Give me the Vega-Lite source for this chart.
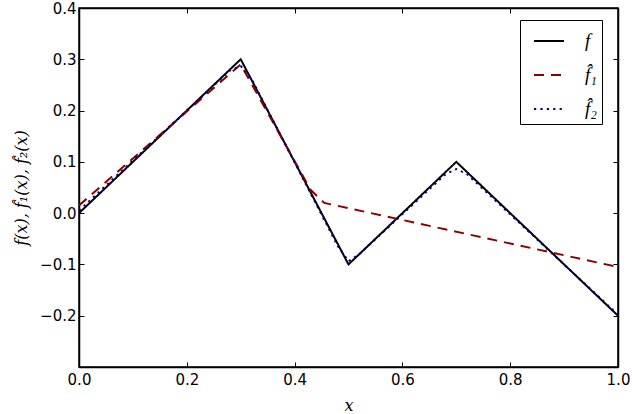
{
  "$schema": "https://vega.github.io/schema/vega-lite/v6.json",
  "width": 539,
  "height": 359,
  "autosize": {"type": "none"},
  "padding": {"left": 79, "top": 8, "right": 14, "bottom": 47},
  "background": "white",
  "config": {
    "view": {"stroke": "black", "strokeWidth": 1.5},
    "axis": {
      "domainColor": "black", "domainWidth": 1.5, "tickColor": "black", "grid": false,
      "labelFont": "DejaVu Sans", "labelFontSize": 15, "labelColor": "black", "labelFlush": false, "labelOverlap": false,
      "tickSize": -5, "tickWidth": 1, "labelPadding": 10,
      "titleFont": "DejaVu Serif", "titleFontStyle": "italic", "titleFontWeight": "normal", "titleFontSize": 16, "titleColor": "black"
    }
  },
  "data": {"values": [
    {"s": "f", "x": 0.0, "y": 0.0},
    {"s": "f", "x": 0.3, "y": 0.3},
    {"s": "f", "x": 0.5, "y": -0.1},
    {"s": "f", "x": 0.7, "y": 0.1},
    {"s": "f", "x": 1.0, "y": -0.2},
    {"s": "f1", "x": 0.0, "y": 0.015},
    {"s": "f1", "x": 0.3, "y": 0.29},
    {"s": "f1", "x": 0.43, "y": 0.045},
    {"s": "f1", "x": 0.455, "y": 0.02},
    {"s": "f1", "x": 1.0, "y": -0.105},
    {"s": "f2", "x": 0.0, "y": 0.005},
    {"s": "f2", "x": 0.28, "y": 0.278},
    {"s": "f2", "x": 0.3, "y": 0.287},
    {"s": "f2", "x": 0.32, "y": 0.262},
    {"s": "f2", "x": 0.48, "y": -0.064},
    {"s": "f2", "x": 0.5, "y": -0.094},
    {"s": "f2", "x": 0.52, "y": -0.08},
    {"s": "f2", "x": 0.68, "y": 0.076},
    {"s": "f2", "x": 0.7, "y": 0.086},
    {"s": "f2", "x": 0.72, "y": 0.076},
    {"s": "f2", "x": 1.0, "y": -0.198}
  ]},
  "layer": [
    {
      "mark": {"type": "line", "strokeWidth": 2, "clip": true},
      "encoding": {
        "x": {"field": "x", "type": "quantitative", "scale": {"domain": [0, 1], "nice": false},
              "axis": {"values": [0, 0.2, 0.4, 0.6, 0.8, 1.0], "format": ".1f", "title": "x", "titlePadding": 10}},
        "y": {"field": "y", "type": "quantitative", "scale": {"domain": [-0.3, 0.4], "nice": false, "zero": false},
              "axis": {"values": [-0.2, -0.1, 0, 0.1, 0.2, 0.3, 0.4], "format": ".1f", "labelPadding": 8, "title": "f(x), f\u0302\u2081(x), f\u0302\u2082(x)", "titlePadding": 10}},
        "color": {"field": "s", "type": "nominal",
                  "scale": {"domain": ["f", "f1", "f2"], "range": ["black", "#8b0000", "#000080"]},
                  "legend": {
                    "title": null, "orient": "none", "legendX": 441, "legendY": 12,
                    "strokeColor": "black", "fillColor": "white", "padding": 5, "cornerRadius": 0,
                    "symbolType": "stroke", "symbolSize": 900, "symbolStrokeWidth": 2.2, "symbolOffset": 8,
                    "labelFont": "Liberation Serif", "labelFontStyle": "italic", "labelFontSize": 19,
                    "labelExpr": "datum.value == 'f' ? 'f' : datum.value == 'f1' ? 'f\u0302\u2081' : 'f\u0302\u2082'",
                    "rowPadding": 8, "labelOffset": 20
                  }},
        "strokeDash": {"field": "s", "type": "nominal",
                  "scale": {"domain": ["f", "f1", "f2"], "range": [[1, 0], [10, 7], [2.2, 4.2]]},
                  "legend": null},
        "strokeWidth": {"field": "s", "type": "nominal",
                  "scale": {"domain": ["f", "f1", "f2"], "range": [2, 2, 3]},
                  "legend": null}
      }
    },
    {
      "mark": {"type": "line", "opacity": 0},
      "encoding": {
        "x": {"field": "x", "type": "quantitative", "axis": {"orient": "top", "labels": false, "title": null, "values": [0, 0.2, 0.4, 0.6, 0.8, 1.0]}},
        "y": {"field": "y", "type": "quantitative", "axis": {"orient": "right", "labels": false, "title": null, "values": [-0.2, -0.1, 0, 0.1, 0.2, 0.3, 0.4]}}
      }
    }
  ],
  "resolve": {"axis": {"x": "independent", "y": "independent"}}
}
